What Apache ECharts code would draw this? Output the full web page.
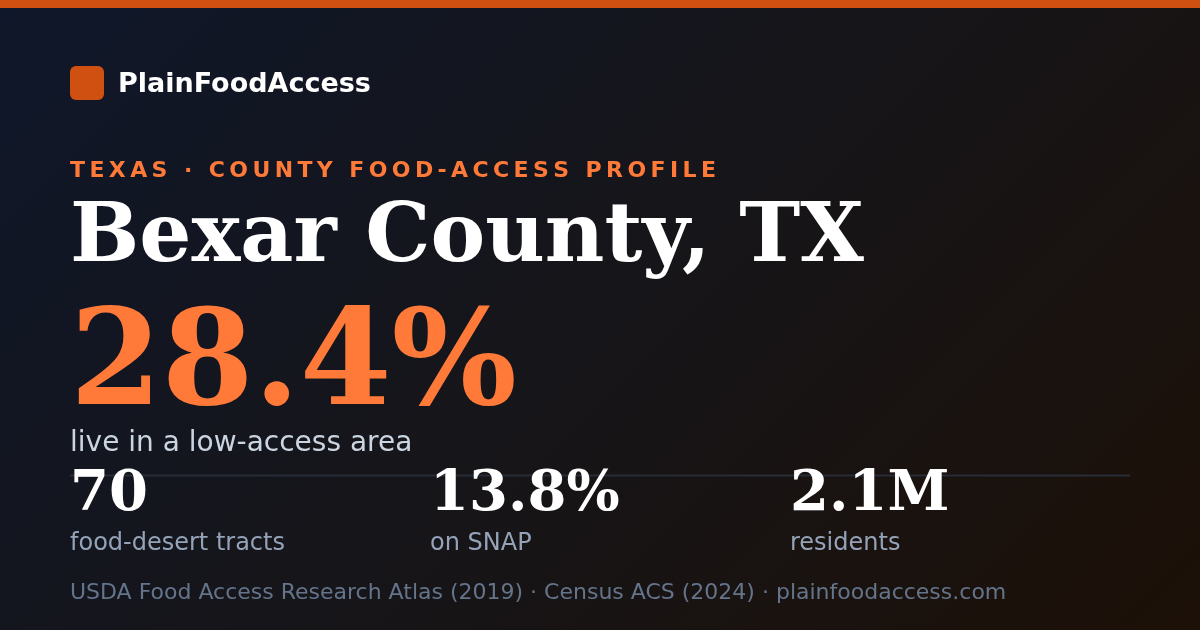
<!DOCTYPE html>
<html>
<head>
<meta charset="utf-8">
<script src="https://cdn.jsdelivr.net/npm/echarts@6/dist/echarts.min.js"></script>
<style>
html,body{margin:0;padding:0;background:#121318;}
#c{width:1200px;height:630px;}
</style>
</head>
<body>
<div id="c"></div>
<script>
// ---- content / data ----
const brandName = 'PlainFoodAccess';
const eyebrowText = 'TEXAS · COUNTY FOOD-ACCESS PROFILE';
const countyName = 'Bexar County, TX';
const headlineValue = 28.4;            // percent living in a low-access area
const headlineLabel = 'live in a low-access area';
const statValues = ['70', '13.8%', '2.1M'];
const statLabels = ['food-desert tracts', 'on SNAP', 'residents'];
const sourceLine = 'USDA Food Access Research Atlas (2019) · Census ACS (2024) · plainfoodaccess.com';

// ---- styles ----
const SANS = '"DejaVu Sans", sans-serif';
const SERIF = '"DejaVu Serif", serif';
const ORANGE = '#ff7a38';
const BRAND_ORANGE = '#cf5010';
const MID = 0.29; // baseline offset for middle-aligned text (em fraction)

const chart = echarts.init(document.getElementById('c'), null, {renderer: 'canvas'});

function txt(x, baseline, str, size, weight, family, color) {
  return {
    type: 'text', x: x, y: baseline - MID * size,
    style: {
      text: str, fill: color, align: 'left', verticalAlign: 'middle',
      font: weight + ' ' + size + 'px ' + family
    }
  };
}

// letter-spaced text built from per-character text elements
const mctx = document.createElement('canvas').getContext('2d');
function spaced(x, baseline, str, size, weight, family, color, spacing) {
  const font = weight + ' ' + size + 'px ' + family;
  mctx.font = font;
  const els = [];
  let cx = x;
  for (const ch of str) {
    if (ch !== ' ') els.push(txt(cx, baseline, ch, size, weight, family, color));
    cx += mctx.measureText(ch).width + spacing;
  }
  return els;
}

const elements = [];
// 135deg diagonal background (CSS-like)
elements.push({
  type: 'rect', shape: {x: 0, y: 0, width: 1200, height: 630},
  style: {
    fill: new echarts.graphic.LinearGradient(142.5, -142.5, 1057.5, 772.5, [
      {offset: 0, color: '#0f172a'},
      {offset: 0.5, color: '#161519'},
      {offset: 1, color: '#1c1007'}
    ], true)
  }
});
elements.push({type: 'rect', shape: {x: 0, y: 0, width: 1200, height: 8}, style: {fill: BRAND_ORANGE}});
elements.push({type: 'rect', shape: {x: 70, y: 66, width: 34, height: 34, r: 6}, style: {fill: BRAND_ORANGE}});
elements.push(txt(118, 93, brandName, 27, 'bold', SANS, '#ffffff'));
spaced(70, 178, eyebrowText, 22, 'bold', SANS, ORANGE, 4.4).forEach(e => elements.push(e));
elements.push(txt(70, 263, countyName, 82, 'bold', SERIF, '#ffffff'));
elements.push(txt(70, 408, headlineValue.toFixed(1) + '%', 132, 'bold', SERIF, ORANGE));
elements.push(txt(70, 452, headlineLabel, 28, 'normal', SANS, '#cbd5e1'));
elements.push({
  type: 'line', shape: {x1: 70, y1: 475.5, x2: 1130, y2: 475.5},
  style: {stroke: '#272c37', lineWidth: 2}
});
statValues.forEach((v, i) => {
  const x = 70 + i * 360;
  elements.push(txt(x, 512, v, 56, 'bold', SERIF, '#ffffff'));
  elements.push(txt(x, 551, statLabels[i], 24, 'normal', SANS, '#94a3b8'));
});
elements.push(txt(70, 600, sourceLine, 22, 'normal', SANS, '#64748b'));

chart.setOption({
  animation: false,
  graphic: {elements: elements}
});
</script>
</body>
</html>
